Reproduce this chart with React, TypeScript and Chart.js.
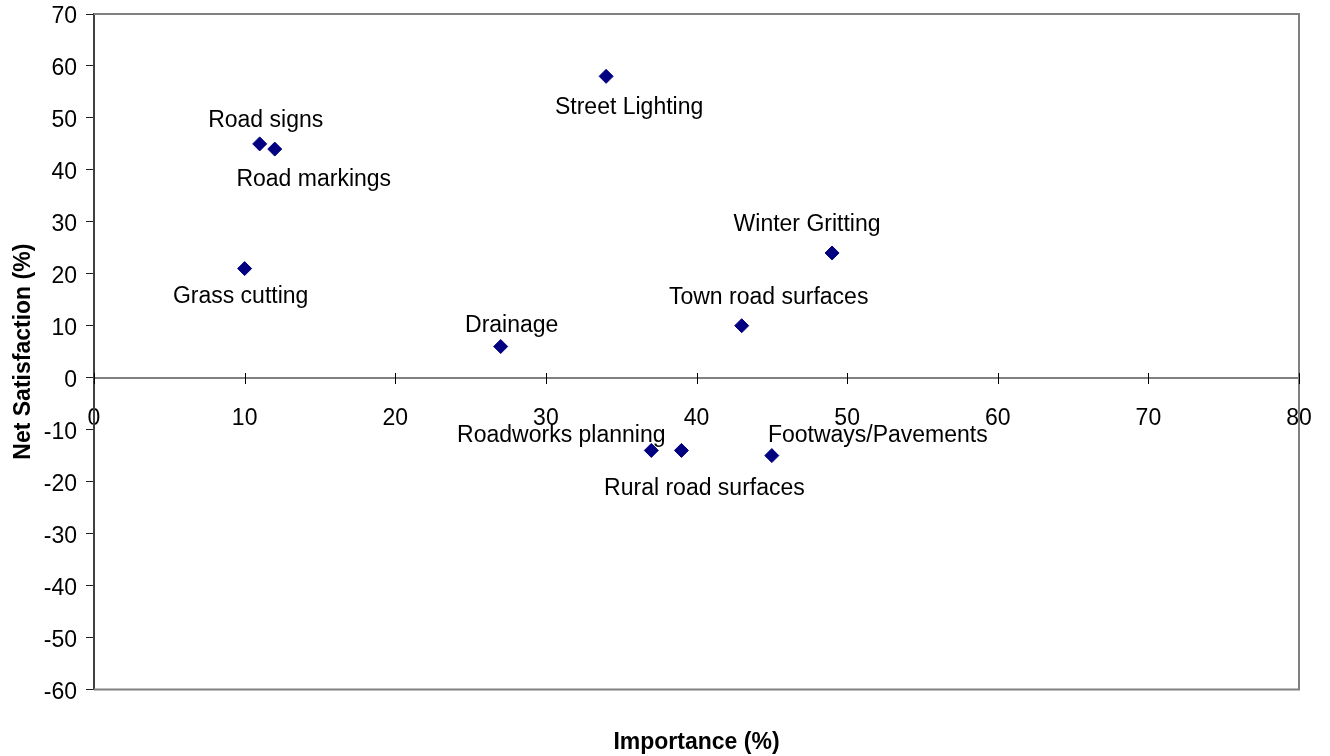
import React, { useEffect, useRef } from "react";
import { Chart, registerables } from "chart.js";

Chart.register(...registerables);

const services = [
  "Road signs",
  "Road markings",
  "Street Lighting",
  "Winter Gritting",
  "Grass cutting",
  "Town road surfaces",
  "Drainage",
  "Roadworks planning",
  "Rural road surfaces",
  "Footways/Pavements",
];
const importance = [11, 12, 34, 49, 10, 43, 27, 37, 39, 45];
const netSatisfaction = [45, 44, 58, 24, 21, 10, 6, -14, -14, -15];
const xTicks = [0, 10, 20, 30, 40, 50, 60, 70, 80];
const yTicks = [70, 60, 50, 40, 30, 20, 10, 0, -10, -20, -30, -40, -50, -60];

// label offsets (pixels) relative to each point
const labelDx = [6, 39, 23, -25, -4, 27, 11, -90, 23, 106];
const labelDy = [-23, 31, 31, -28, 28, -28, -21, -15, 38, -20];

const FONT = "'Liberation Sans', Arial, sans-serif";
const FS = 23;

export default function App() {
  const ref = useRef<HTMLCanvasElement | null>(null);

  useEffect(() => {
    document.body.style.margin = "0";
    const canvas = ref.current;
    if (!canvas) return;

    const framePlugin = {
      id: "frame",
      beforeDatasetsDraw(chart: any) {
        const { ctx, chartArea } = chart;
        const { left, right, top, bottom } = chartArea;
        ctx.save();
        ctx.strokeStyle = "#808080";
        ctx.lineWidth = 2;
        ctx.beginPath();
        ctx.moveTo(left, top);
        ctx.lineTo(right, top);
        ctx.lineTo(right, bottom);
        ctx.lineTo(left, bottom);
        ctx.stroke();
        const xs = chart.scales.x;
        const ys = chart.scales.y;
        const y0 = Math.round(ys.getPixelForValue(0));
        ctx.strokeStyle = "#000000";
        ctx.lineWidth = 1;
        xTicks.forEach((v) => {
          const px = Math.round(xs.getPixelForValue(v)) + 0.5;
          ctx.beginPath();
          ctx.moveTo(px, y0 - 5);
          ctx.lineTo(px, y0 + 6);
          ctx.stroke();
        });
        ctx.restore();
      },
    };

    const labelPlugin = {
      id: "pointLabels",
      afterDatasetsDraw(chart: any) {
        const { ctx } = chart;
        const meta = chart.getDatasetMeta(0);
        ctx.save();
        ctx.font = `${FS}px ${FONT}`;
        ctx.fillStyle = "#000000";
        ctx.textAlign = "center";
        ctx.textBaseline = "middle";
        meta.data.forEach((pt: any, i: number) => {
          ctx.fillText(services[i], pt.x + labelDx[i], pt.y + labelDy[i]);
        });
        ctx.restore();
      },
    };

    const chart = new Chart(canvas, {
      type: "scatter",
      data: {
        datasets: [
          {
            label: "Services",
            data: importance.map((x, i) => ({ x, y: netSatisfaction[i] })),
            pointStyle: "rectRot",
            pointRadius: 7,
            pointBackgroundColor: "#000080",
            pointBorderColor: "#000080",
            pointBorderWidth: 1,
          },
        ],
      },
      options: {
        responsive: false,
        animation: false,
        layout: { padding: { left: 0, top: 14, right: 31, bottom: 0 } },
        plugins: {
          legend: { display: false },
          tooltip: { enabled: false },
          title: {
            display: true,
            position: "bottom",
            fullSize: false,
            text: "Importance (%)",
            color: "#000000",
            font: { family: FONT, size: FS, weight: "bold" },
            padding: { top: 39, bottom: 0 },
          },
        },
        scales: {
          x: {
            type: "linear",
            position: { y: 0 },
            min: 0,
            max: 80,
            afterBuildTicks: (scale: any) => {
              scale.ticks = xTicks.map((v) => ({ value: v }));
            },
            afterFit: (scale: any) => {
              scale.paddingLeft = 0;
              scale.paddingRight = 0;
              scale.paddingTop = 0;
              scale.paddingBottom = 0;
            },
            ticks: {
              color: "#000000",
              font: { family: FONT, size: FS },
              padding: 27,
              maxRotation: 0,
              autoSkip: false,
            },
            grid: { drawOnChartArea: false, drawTicks: false },
            border: { display: true, color: "#808080", width: 2 },
          },
          y: {
            type: "linear",
            position: "left",
            min: -60,
            max: 70,
            afterBuildTicks: (scale: any) => {
              scale.ticks = yTicks.map((v) => ({ value: v }));
            },
            afterFit: (scale: any) => {
              scale.width = 94;
              scale.paddingTop = 0;
              scale.paddingBottom = 0;
              scale.paddingLeft = 0;
              scale.paddingRight = 0;
            },
            ticks: {
              color: "#000000",
              font: { family: FONT, size: FS },
              padding: 9,
              labelOffset: 3,
              autoSkip: false,
            },
            grid: {
              drawOnChartArea: false,
              drawTicks: true,
              tickLength: 8,
              color: "#202020",
              lineWidth: 1,
            },
            border: { display: true, color: "#404040", width: 2 },
            title: {
              display: true,
              text: "Net Satisfaction (%)",
              color: "#000000",
              font: { family: FONT, size: FS, weight: "bold" },
              padding: { top: 10, bottom: 0 },
            },
          },
        },
      },
      plugins: [framePlugin, labelPlugin],
    });

    return () => chart.destroy();
  }, []);

  return (
    <div style={{ width: 1330, height: 756 }}>
      <canvas ref={ref} width={1330} height={756} style={{ display: "block" }} />
    </div>
  );
}
